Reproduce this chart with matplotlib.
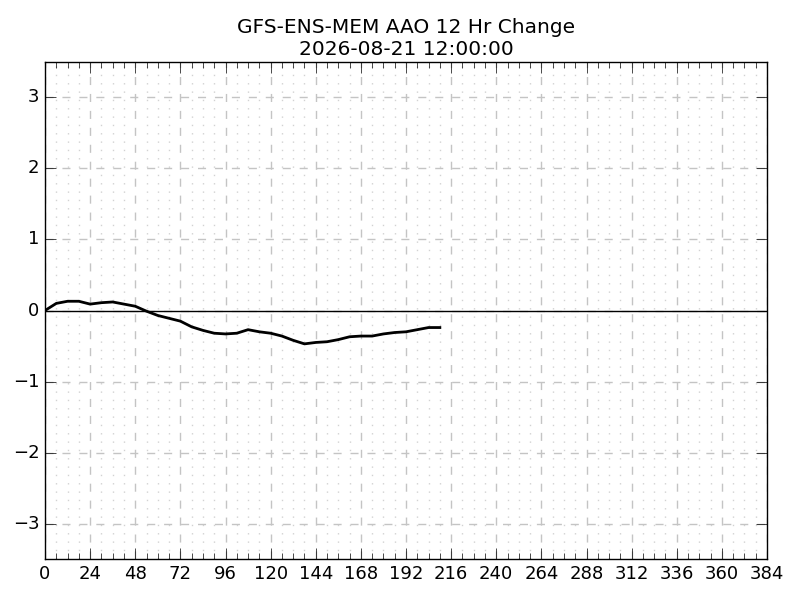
import matplotlib
matplotlib.use('Agg')
import matplotlib.pyplot as plt
from matplotlib.ticker import MultipleLocator

plt.style.use('classic')

# forecast hour and AAO 12 hr change values
hours = list(range(0, 211, 6))
aao_change = [0.0, 0.10, 0.13, 0.13, 0.09, 0.11, 0.12, 0.09, 0.06, -0.01,
              -0.07, -0.11, -0.15, -0.23, -0.28, -0.32, -0.33, -0.32, -0.27, -0.30,
              -0.32, -0.36, -0.42, -0.47, -0.45, -0.44, -0.41, -0.37, -0.36, -0.36,
              -0.33, -0.31, -0.30, -0.27, -0.24, -0.24]
title_text = 'GFS-ENS-MEM AAO 12 Hr Change\n2026-08-21 12:00:00'

fig = plt.figure(figsize=(8, 6), dpi=100, facecolor='white')
ax = fig.add_axes([0.05625, 0.0683, 0.9025, 0.8284])

ax.plot(hours, aao_change, color='black', linewidth=2, zorder=3)
ax.axhline(0, color='black', linewidth=1, zorder=2)

ax.set_xlim(0, 384)
ax.set_ylim(-3.5, 3.5)
ax.xaxis.set_major_locator(MultipleLocator(24))
ax.xaxis.set_minor_locator(MultipleLocator(6))
ax.yaxis.set_major_locator(MultipleLocator(1))
ax.yaxis.set_minor_locator(MultipleLocator(10))

# dashed major grid, sparse dotted minor grid on x only
ax.grid(which='major', color='#c4c4c4', linestyle=(0, (5.8, 6.4)), linewidth=1)
ax.grid(which='minor', axis='x', color='#d2d2d2', linestyle=(0, (1.0, 5.0)), linewidth=1)
ax.set_axisbelow(True)

ax.tick_params(axis='both', which='major', direction='in', length=8, labelsize=13)
ax.tick_params(axis='x', which='minor', direction='in', length=4)

ax.set_title(title_text, fontsize=14.5)

plt.savefig('out.png', dpi=100, facecolor='white')
